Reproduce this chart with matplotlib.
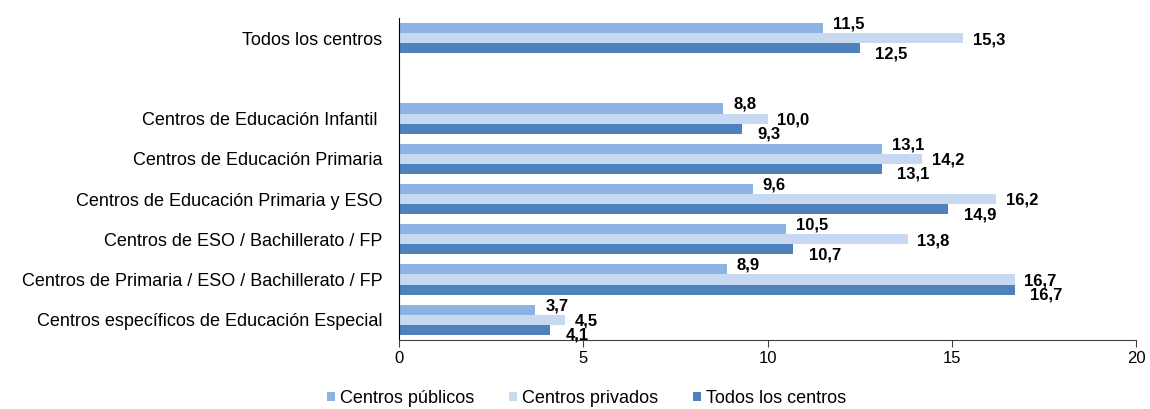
import matplotlib.pyplot as plt
import numpy as np

plt.rcParams["font.family"] = ["Liberation Sans", "DejaVu Sans"]

categories = [
    "Todos los centros",
    "Centros de Educación Infantil ",
    "Centros de Educación Primaria",
    "Centros de Educación Primaria y ESO",
    "Centros de ESO / Bachillerato / FP",
    "Centros de Primaria / ESO / Bachillerato / FP",
    "Centros específicos de Educación Especial",
]
publicos = [11.5, 8.8, 13.1, 9.6, 10.5, 8.9, 3.7]
privados = [15.3, 10.0, 14.2, 16.2, 13.8, 16.7, 4.5]
todos = [12.5, 9.3, 13.1, 14.9, 10.7, 16.7, 4.1]
series_names = ["Centros públicos", "Centros privados", "Todos los centros"]
xticks = [0, 5, 10, 15, 20]

colors = ["#8DB3E2", "#C6D9F1", "#4F81BD"]
# label offsets (points) mimic the Excel placement
label_offsets = [(7, 3), (7, -1), (11, -4)]

# first group is followed by an empty slot
pos = np.array([0] + [i + 1 for i in range(1, len(categories))], dtype=float)
h = 0.25

fig = plt.figure(figsize=(11.5, 4.09), dpi=100)
ax = fig.add_axes([0.347, 0.169, 0.641, 0.787])

for k, vals in enumerate([publicos, privados, todos]):
    y = pos + (k - 1) * h
    ax.barh(y, vals, height=h, color=colors[k], label=series_names[k], edgecolor="none")
    dx, dy = label_offsets[k]
    for yy, v in zip(y, vals):
        ax.annotate(f"{v:.1f}".replace(".", ","), (v, yy), xytext=(dx, dy),
                    textcoords="offset points", ha="left", va="center",
                    fontsize=12, fontweight="bold")

ax.set_ylim(7.5, -0.5)
ax.set_xlim(0, 20)
ax.set_yticks(pos)
ax.set_yticklabels(categories, fontsize=13)
ax.tick_params(axis="y", length=0, pad=12)
ax.set_xticks(xticks)
ax.set_xticklabels([str(t) for t in xticks], fontsize=12)
ax.tick_params(axis="x", length=5, color="#404040", pad=3)
ax.spines["top"].set_visible(False)
ax.spines["right"].set_visible(False)
ax.spines["left"].set_color("#000000")
ax.spines["bottom"].set_color("#404040")

fig.legend(loc="lower center", bbox_to_anchor=(0.51, -0.035), ncol=3, frameon=False,
           fontsize=13, handlelength=0.45, handleheight=0.45, handletextpad=0.3,
           columnspacing=1.9)

fig.savefig("out.png", dpi=100)
